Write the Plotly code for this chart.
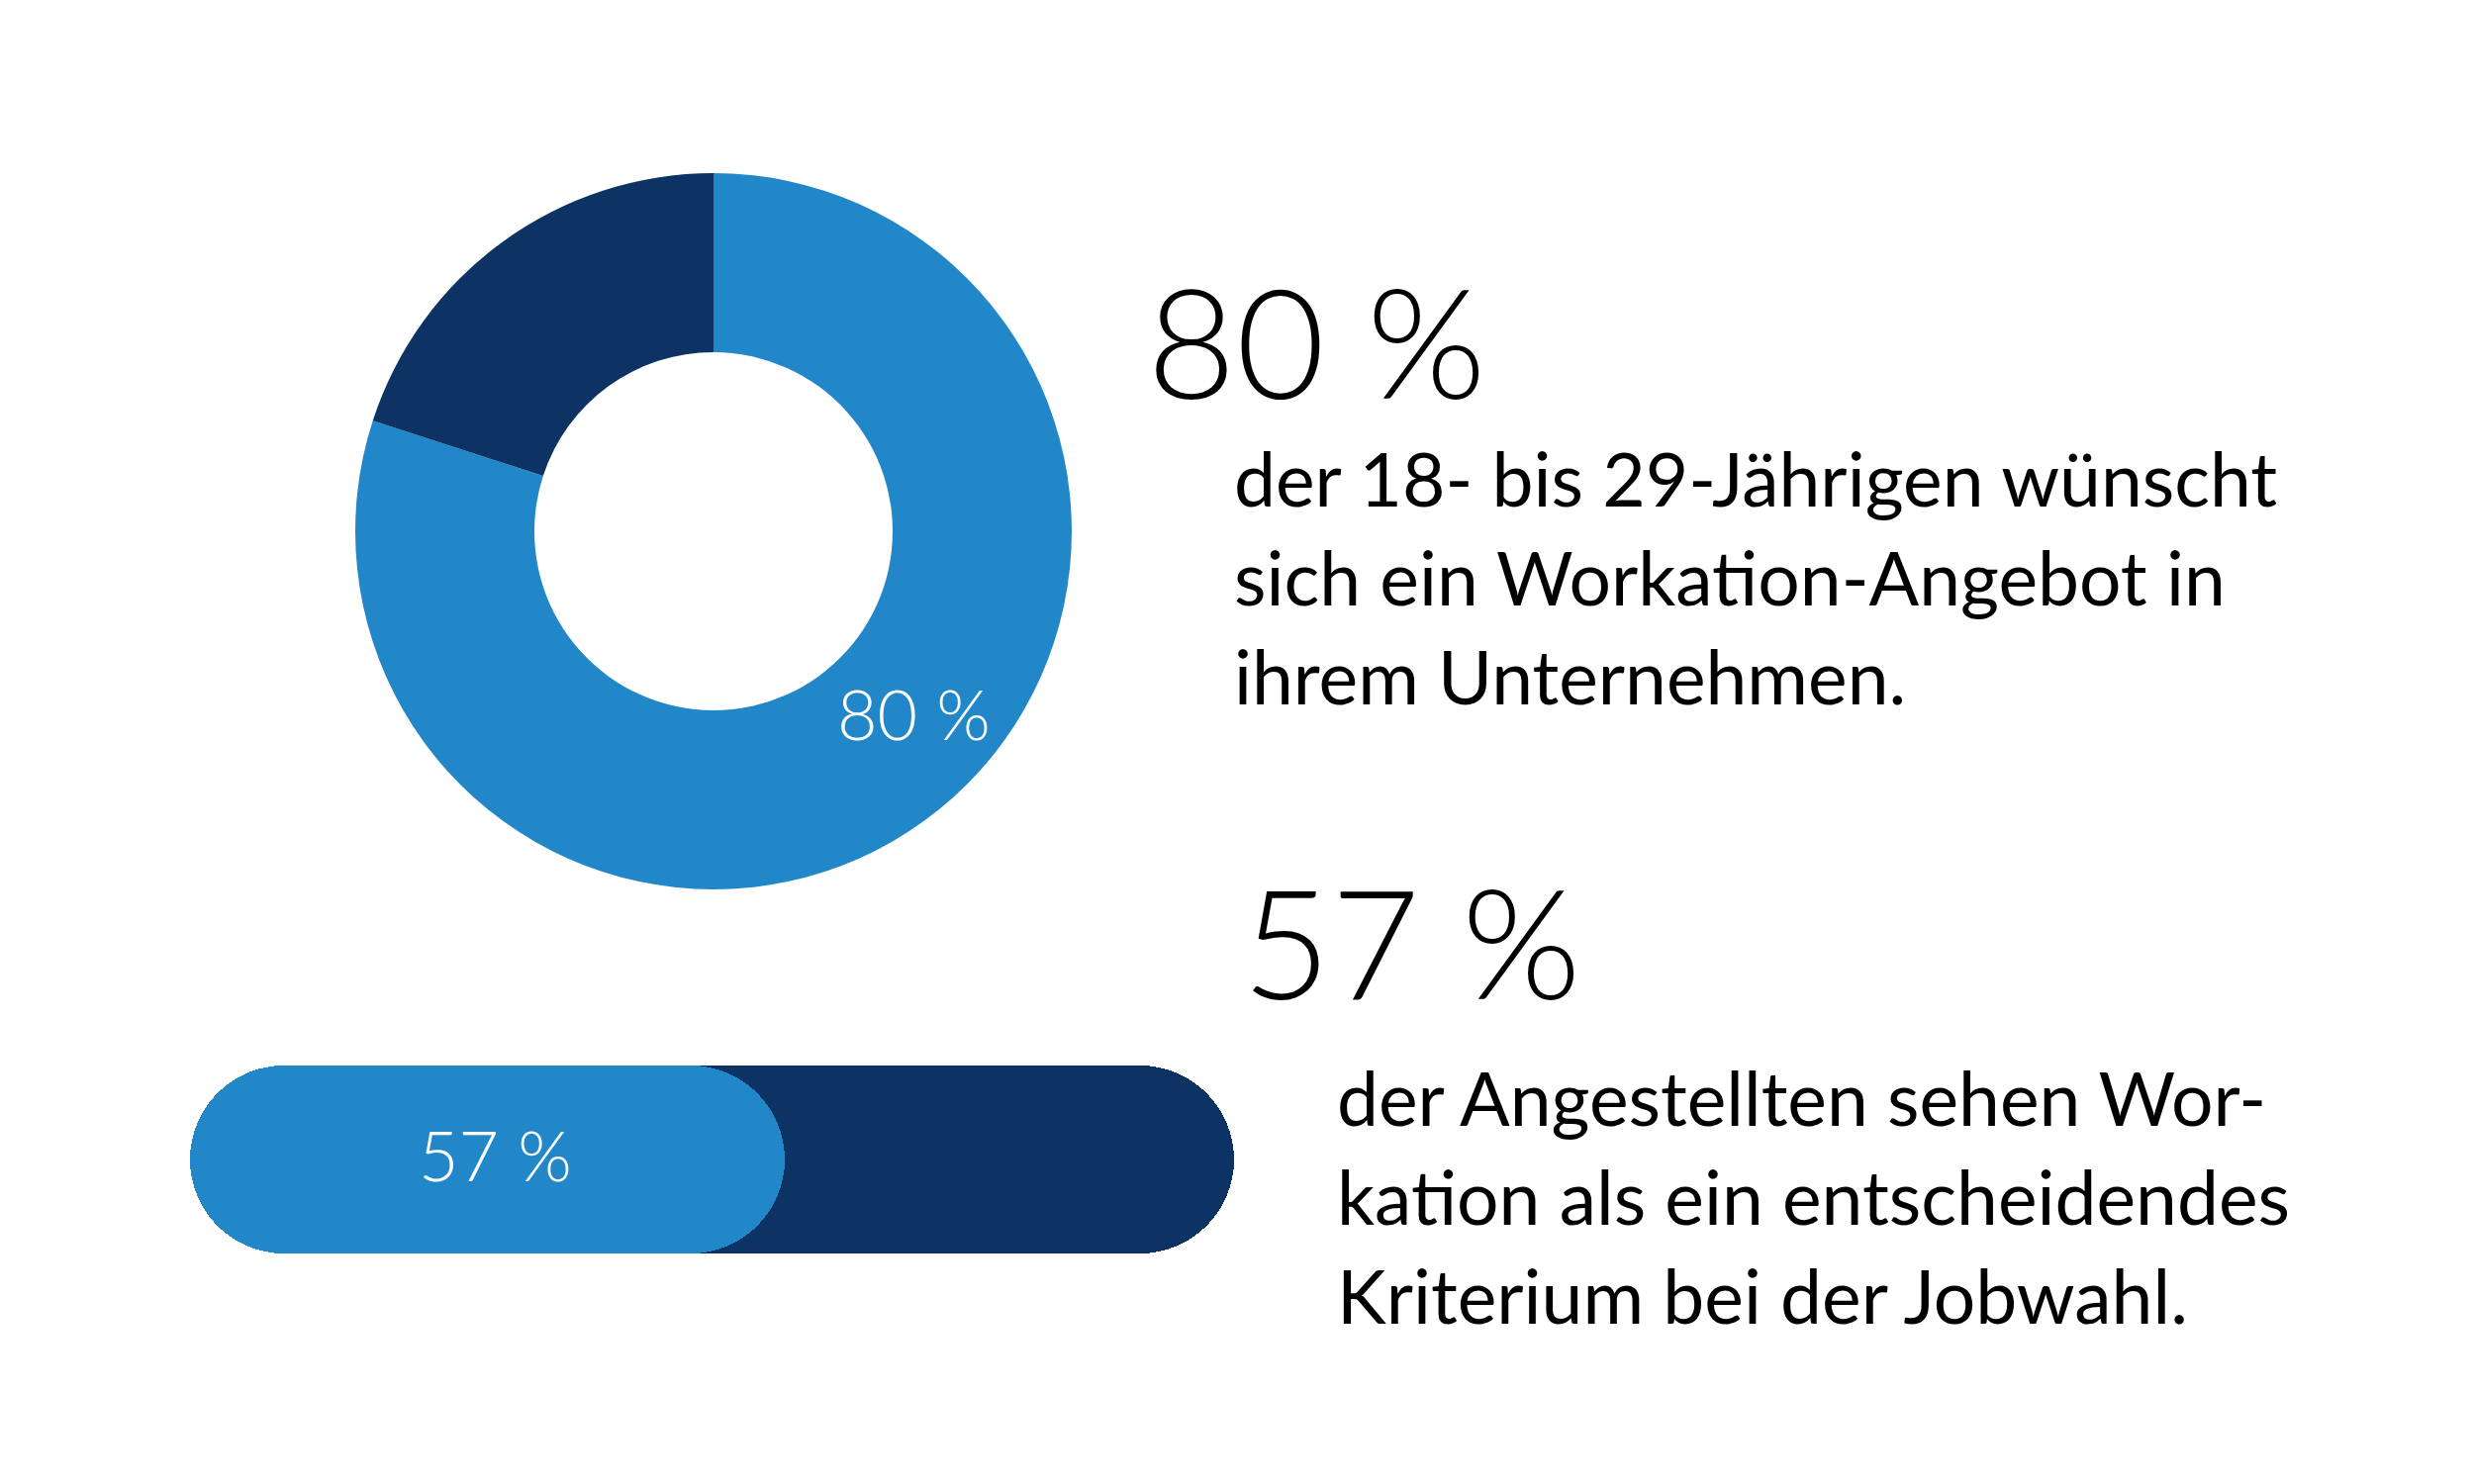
import plotly.graph_objects as go

# Data
pie_labels = ["wünschen Workation", "übrige"]
pie_values = [80, 20]
bar_labels = ["entscheidend", "übrige"]
bar_values = [57, 43]
text_pie = ["der 18- bis 29-Jährigen wünscht", "sich ein Workation-Angebot in", "ihrem Unternehmen."]
text_bar = ["der Angestellten sehen Wor-", "kation als ein entscheidendes", "Kriterium bei der Jobwahl."]

LIGHT = "#2287C9"
DARK = "#0C3363"
FONT = "Lato"
W, H = 2500, 1500


def px(x, y):
    # pixel position -> paper coords
    return x / W, 1 - y / H


fig = go.Figure()

# donut
fig.add_trace(go.Pie(
    labels=pie_labels, values=pie_values, hole=0.5, sort=False,
    direction="clockwise", rotation=0,
    marker=dict(colors=[LIGHT, DARK], line=dict(width=0)),
    textinfo="none", hoverinfo="label+value", showlegend=False,
    domain=dict(x=[351 / W, 1075 / W], y=[1 - 891 / H, 1 - 167 / H]),
))

# progress bar: full track in dark, share on top in light
total = sum(bar_values)
for value, color in [(total, DARK), (bar_values[0], LIGHT)]:
    fig.add_trace(go.Bar(
        x=[value], y=[0], base=[0], width=[1],
        orientation="h", marker=dict(color=color, line=dict(width=0)),
        showlegend=False, hoverinfo="skip",
    ))

fig.update_layout(
    width=W, height=H, margin=dict(l=0, r=0, t=0, b=0),
    paper_bgcolor="white", plot_bgcolor="white",
    barmode="overlay", bargap=0, barcornerradius=95,
    xaxis=dict(domain=[184 / W, 1239 / W], range=[0, total], visible=False, fixedrange=True),
    yaxis=dict(domain=[1 - 1259 / H, 1 - 1069 / H], range=[-0.5, 0.5], visible=False, fixedrange=True),
)

annotations = []

# labels inside the marks
x, y = px(915, 713)
annotations.append(dict(text=f"{pie_values[0]} %", x=x, y=y, xref="paper", yref="paper",
                        xanchor="center", yanchor="middle", showarrow=False,
                        font=dict(family=FONT, size=70, color="white", weight=300)))
annotations.append(dict(text=f"{bar_values[0]} %", x=bar_values[0] / 2, y=0, xref="x", yref="y",
                        xanchor="center", yanchor="middle", xshift=8, yshift=5, showarrow=False,
                        font=dict(family=FONT, size=70, color="white", weight=300)))

# big numbers
for val, (bx, by) in [(pie_values[0], (1149, 335)), (bar_values[0], (1245, 942))]:
    x, y = px(bx, by)
    annotations.append(dict(text=f"{val} %", x=x, y=y, xref="paper", yref="paper",
                            xanchor="left", yanchor="middle", showarrow=False,
                            font=dict(family=FONT, size=155, color="black", weight=300)))

# body text lines
for lines, left, top in [(text_pie, 1237, 475), (text_bar, 1341, 1101)]:
    for i, line in enumerate(lines):
        x, y = px(left, top + i * 100)
        annotations.append(dict(text=line, x=x, y=y, xref="paper", yref="paper",
                                xanchor="left", yanchor="middle", showarrow=False,
                                font=dict(family=FONT, size=75, color="black", weight=400)))

fig.update_layout(annotations=annotations)

fig.write_html("out.html")
